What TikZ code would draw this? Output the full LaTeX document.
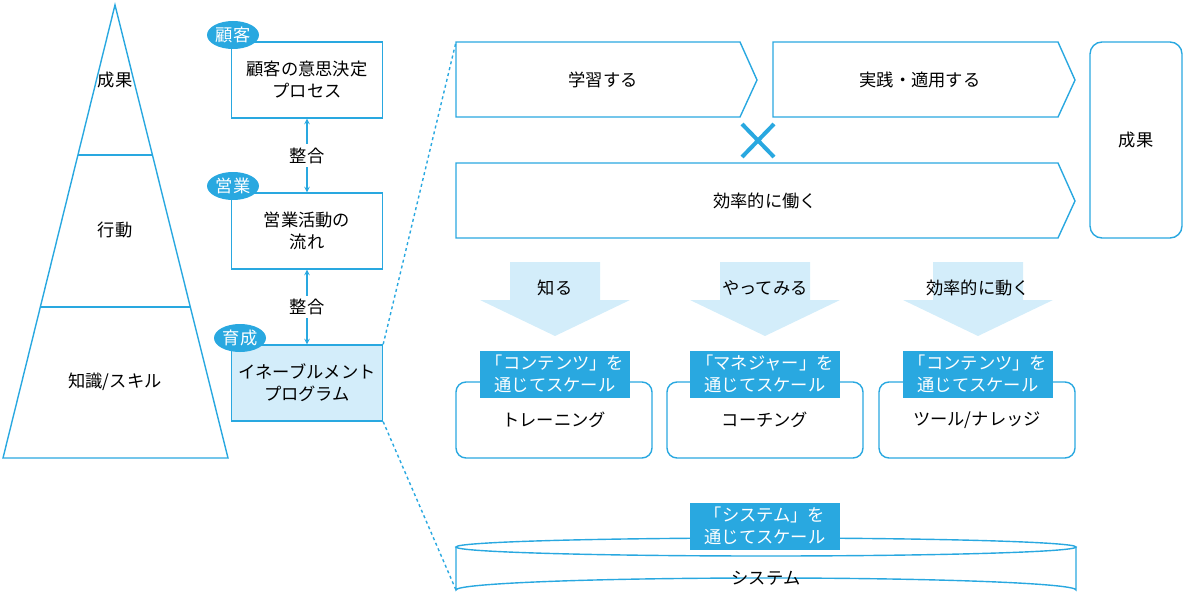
\documentclass[tikz,border=0pt]{standalone}
\usepackage{fontspec}
\setmainfont{Noto Sans CJK JP}
\usetikzlibrary{positioning,shapes.geometric,calc}
\definecolor{sky}{HTML}{29A8E0}
\definecolor{pale}{HTML}{D3EDFA}
\tikzstyle{ln}=[draw=sky, line width=1.4pt]
\tikzstyle{box}=[ln, minimum width=151pt, minimum height=76pt, align=center, font=\LARGE]
\tikzstyle{rbox}=[ln, rounded corners=10pt, minimum width=196pt, minimum height=76pt, font=\LARGE]
\tikzstyle{badge}=[ellipse, fill=sky, text=white, inner sep=1pt, minimum width=52pt, minimum height=28pt, font=\LARGE]
\tikzstyle{tag}=[fill=sky, text=white, align=center, inner sep=2pt, minimum width=150pt, minimum height=47pt, font=\LARGE]
\begin{document}
\begin{tikzpicture}[x=1pt,y=-1pt]
   \useasboundingbox (0,0) rectangle (1183,610);
   % pyramid
   \draw[ln] (115,5) -- (228,458) -- (3,458) -- cycle;
   \draw[ln] (78,155) -- (153,155) (40,307) -- (191,307);
   \node[font=\LARGE] (p1) at (115,80) {成果};
   \node[font=\LARGE] (p2) at (115,230) {行動};
   \node[font=\LARGE] (p3) at (115,382) {知識/スキル};
   % left boxes
   \node[box] (B1) at (307,80) {顧客の意思決定\\プロセス};
   \node[box] (B2) at (307,231) {営業活動の\\流れ};
   \node[box, fill=pale] (B3) at (307,383) {イネーブルメント\\プログラム};
   \node[badge] (b1) at (233,35) {顧客};
   \node[badge] (b2) at (233,186) {営業};
   \node[badge] (b3) at (240,338) {育成};
   \draw[ln, <->, >=stealth] (B1) -- node[fill=white, text=black, font=\LARGE] {整合} (B2);
   \draw[ln, <->, >=stealth] (B2) -- node[fill=white, text=black, font=\LARGE] {整合} (B3);
   \coordinate (c1) at (456,42);
   \coordinate (c2) at (456,590);
   \draw[ln, dashed] (B3.north east) -- (c1);
   \draw[ln, dashed] (B3.south east) -- (c2);
   % process arrows
   \draw[ln] (456,42) -- (740,42) -- (757,80) -- (740,117) -- (456,117) -- cycle;
   \node[font=\LARGE] (a1) at (603,80) {学習する};
   \draw[ln] (773,42) -- (1058,42) -- (1075,80) -- (1058,117) -- (773,117) -- cycle;
   \node[font=\LARGE] (a2) at (920,80) {実践・適用する};
   \draw[ln] (456,163) -- (1058,163) -- (1075,201) -- (1058,238) -- (456,238) -- cycle;
   \node[font=\LARGE] (a3) at (765,201) {効率的に働く};
   \draw[sky, line width=4pt] (742,124) -- (774,157) (742,157) -- (774,124);
   \node[ln, rounded corners=12pt, minimum width=92pt, minimum height=196pt, font=\LARGE] (R) at (1136,140) {成果};
   % down arrows
   \foreach \n/\xx/\t in {1/555/知る, 2/765/やってみる, 3/978/効率的に動く} {
     \fill[pale] (\xx-45,262) -- (\xx+45,262) -- (\xx+45,300) -- (\xx+75,300) -- (\xx,336) -- (\xx-75,300) -- (\xx-45,300) -- cycle;
     \node[font=\LARGE] (l\n) at (\xx,288) {\t};
   }
   % tool boxes
   \node[rbox] (T1) at (554,420) {トレーニング};
   \node[rbox] (T2) at (765,420) {コーチング};
   \node[rbox] (T3) at (977,420) {ツール/ナレッジ};
   \node[tag] (g1) at (555,374) {「コンテンツ」を\\通じてスケール};
   \node[tag] (g2) at (765,374) {「マネジャー」を\\通じてスケール};
   \node[tag] (g3) at (978,374) {「コンテンツ」を\\通じてスケール};
   % system
   \draw[ln, fill=white] (456,547) -- (456,590) arc[start angle=180, end angle=360, x radius=310, y radius=12] -- (1076,547);
   \draw[ln, fill=white] (766,547) ellipse[x radius=310, y radius=9];
   \node[font=\LARGE] (S) at (766,578) {システム};
   \node[tag] (g4) at (765,526) {「システム」を\\通じてスケール};
\end{tikzpicture}
\end{document}
